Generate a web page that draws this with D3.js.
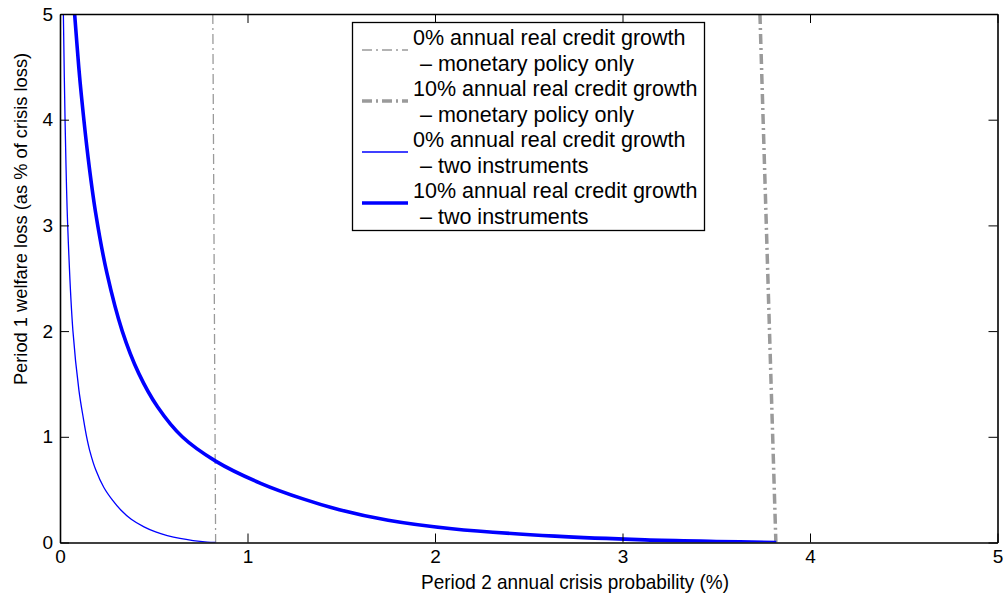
<!DOCTYPE html>
<html>
<head>
<meta charset="utf-8">
<script src="https://d3js.org/d3.v7.min.js"></script>
<style>
  body { margin: 0; background: #fff; }
  text { font-family: "Liberation Sans", Arial, sans-serif; fill: #000; }
</style>
</head>
<body>
<div id="chart"></div>
<script>
// values
var xTicks = [0, 1, 2, 3, 4, 5]
var yTicks = [0, 1, 2, 3, 4, 5]

var thinTwoX = [0.018, 0.027, 0.041, 0.069, 0.101, 0.125, 0.142, 0.16, 0.19, 0.234, 0.28, 0.323, 0.38, 0.448, 0.51, 0.572, 0.64, 0.71, 0.785, 0.83]
var thinTwoY = [5, 4, 3, 2, 1.44, 1.17, 1.0, 0.86, 0.69, 0.52, 0.40, 0.31, 0.22, 0.148, 0.10, 0.066, 0.038, 0.018, 0.004, 0]

var thickTwoX = [0.078, 0.1, 0.114, 0.15, 0.19, 0.25, 0.332, 0.42, 0.52, 0.652, 0.83, 1.07, 1.3, 1.49, 1.75, 2.09, 2.64, 3.12, 3.5, 3.82]
var thickTwoY = [5, 4.5, 4.23, 3.64, 3.12, 2.55, 2, 1.6, 1.284, 1, 0.77, 0.56, 0.41, 0.31, 0.21, 0.13, 0.06, 0.025, 0.01, 0]

var thinMonX = [0.815, 0.83]
var thinMonY = [5, 0]
var thickMonX = [3.733, 3.818]
var thickMonY = [5, 0]

var legendLabels = [
    ['0% annual real credit growth', '\u2013 monetary policy only'],
    ['10% annual real credit growth', '\u2013 monetary policy only'],
    ['0% annual real credit growth', '\u2013 two instruments'],
    ['10% annual real credit growth', '\u2013 two instruments']
]

function zip(xs, ys) {
    return xs.map(function(x, i) { return [x, ys[i]] })
}

function draw() {
    let series = [
        { pts: zip(thinMonX, thinMonY), color: '#9a9a9a', width: 1.3, dash: '10,4,2,4' },
        { pts: zip(thickMonX, thickMonY), color: '#9a9a9a', width: 3.5, dash: '10,4,2,4' },
        { pts: zip(thinTwoX, thinTwoY), color: '#0000ff', width: 1.3, dash: null },
        { pts: zip(thickTwoX, thickTwoY), color: '#0000ff', width: 3.6, dash: null }
    ]

    let W = 1007, H = 604
    let mLeft = 60, mRight = 997.5, mTop = 14, mBottom = 542.5

    let svg = d3.select('#chart').append('svg').attr('width', W).attr('height', H)

    let x = d3.scaleLinear().domain([0, 5]).range([mLeft, mRight])
    let y = d3.scaleLinear().domain([0, 5]).range([mBottom, mTop])

    svg.append('clipPath').attr('id', 'clip')
        .append('rect').attr('x', mLeft).attr('y', mTop)
        .attr('width', mRight - mLeft).attr('height', mBottom - mTop)

    // centripetal catmull-rom keeps both the steep and the flat parts smooth
    let line = d3.line()
        .x(function(d) { return x(d[0]) })
        .y(function(d) { return y(d[1]) })
        .curve(d3.curveCatmullRom.alpha(0.5))

    let plot = svg.append('g').attr('clip-path', 'url(#clip)')
    series.forEach(function(s) {
        plot.append('path')
            .attr('d', line(s.pts))
            .attr('fill', 'none')
            .attr('stroke', s.color)
            .attr('stroke-width', s.width)
            .attr('stroke-dasharray', s.dash)
    })

    // axes with inward ticks, mirrored on top and right
    let tl = 9
    let fmt = d3.format('d')
    svg.append('g').attr('transform', 'translate(0,' + mBottom + ')')
        .call(d3.axisBottom(x).tickValues(xTicks).tickFormat(fmt).tickSizeInner(-tl).tickSizeOuter(0).tickPadding(7))
    svg.append('g').attr('transform', 'translate(0,' + mTop + ')')
        .call(d3.axisTop(x).tickValues(xTicks).tickSizeInner(-tl).tickSizeOuter(0).tickFormat(''))
    svg.append('g').attr('transform', 'translate(' + mLeft + ',0)')
        .call(d3.axisLeft(y).tickValues(yTicks).tickFormat(fmt).tickSizeInner(-tl).tickSizeOuter(0).tickPadding(7))
    svg.append('g').attr('transform', 'translate(' + mRight + ',0)')
        .call(d3.axisRight(y).tickValues(yTicks).tickSizeInner(-tl).tickSizeOuter(0).tickFormat(''))

    svg.selectAll('.domain').attr('stroke', '#000').attr('stroke-width', 1.6)
    svg.selectAll('.tick line').attr('stroke', '#000').attr('stroke-width', 1)
    svg.selectAll('.tick text').style('font-size', '19px').style('font-family', '"Liberation Sans", Arial, sans-serif')

    svg.append('text')
        .attr('x', 575).attr('y', 589)
        .attr('text-anchor', 'middle')
        .attr('textLength', 308).attr('lengthAdjust', 'spacingAndGlyphs')
        .style('font-size', '21px')
        .text('Period 2 annual crisis probability (%)')

    svg.append('text')
        .attr('transform', 'translate(26.5,219) rotate(-90)')
        .attr('text-anchor', 'middle')
        .style('font-size', '18.3px')
        .text('Period 1 welfare loss (as % of crisis loss)')

    // legend
    let lg = svg.append('g')
    lg.append('rect')
        .attr('x', 352.5).attr('y', 22.5).attr('width', 352).attr('height', 208)
        .attr('fill', '#fff').attr('stroke', '#000').attr('stroke-width', 1.3)

    series.forEach(function(s, i) {
        let cy = 50 + i * 51
        lg.append('line')
            .attr('x1', 362).attr('x2', 408).attr('y1', cy).attr('y2', cy)
            .attr('stroke', s.color).attr('stroke-width', s.width)
            .attr('stroke-dasharray', s.dash)
        lg.append('text').attr('x', 413).attr('y', cy - 5)
            .style('font-size', '21.5px').text(legendLabels[i][0])
        lg.append('text').attr('x', 420).attr('y', cy + 20.5)
            .style('font-size', '21.5px').text(legendLabels[i][1])
    })
}

draw()
</script>
</body>
</html>
